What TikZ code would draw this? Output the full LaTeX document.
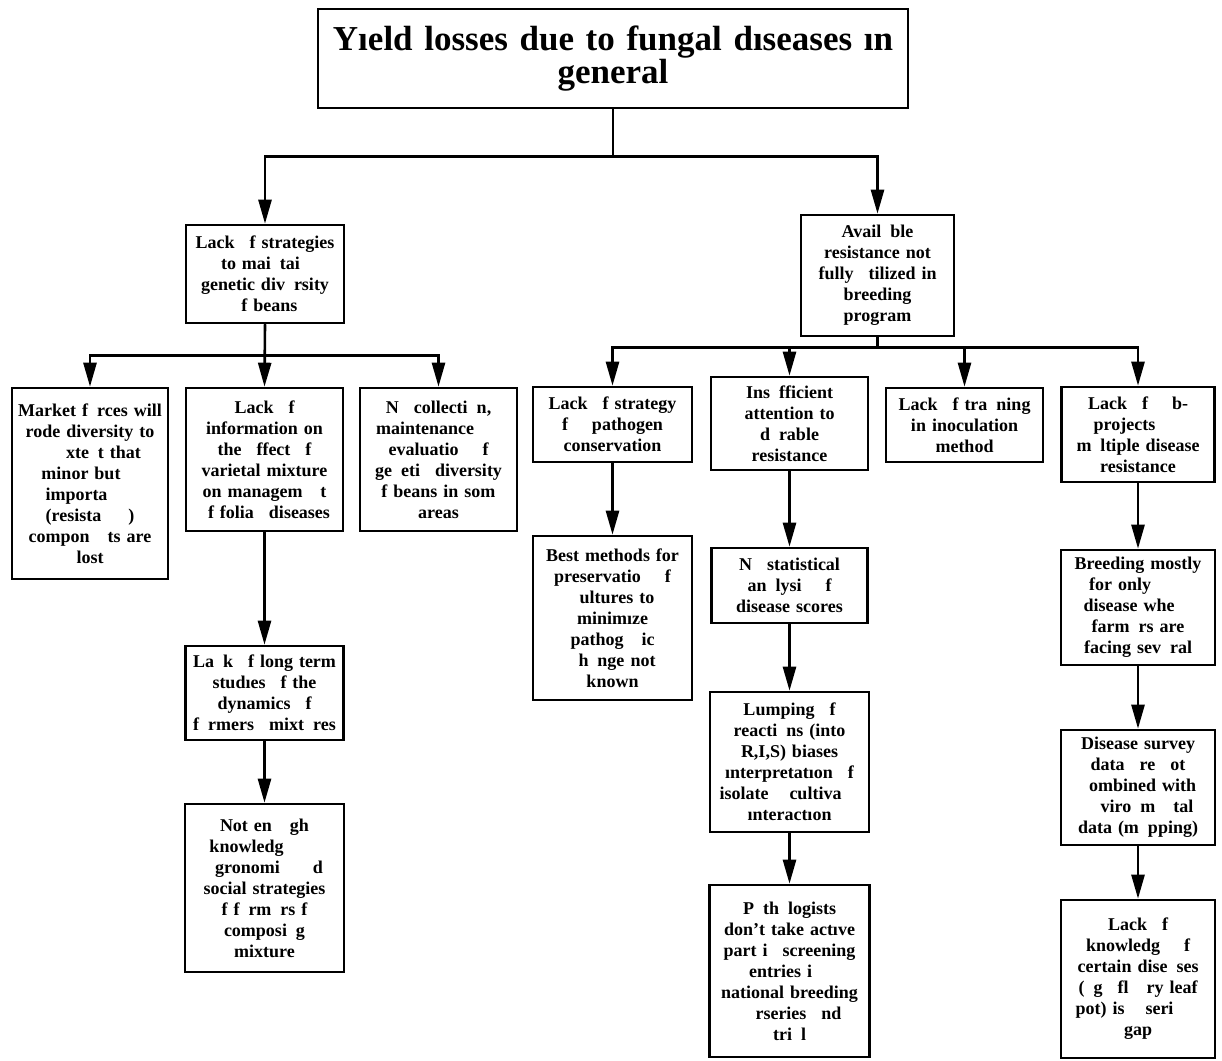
\documentclass[tikz,border=0pt]{standalone}
\usepackage{fontspec}
\setmainfont{Liberation Serif}
\usetikzlibrary{arrows.meta}
% a gap where a letter is not printed (horizontal, also at a line start)
\newcommand\gp{\leavevmode\kern0.5em}
\tikzset{
  box/.style={draw, line width=2.6pt, inner sep=0pt, align=center,
    font=\fontsize{18}{21}\selectfont\bfseries},
  titlebox/.style={draw, line width=2.6pt, inner sep=0pt, align=center,
    font=\fontsize{35}{33}\selectfont\bfseries},
  arr/.style={line width=2.6pt, line join=miter,
    -{Triangle[length=24pt,width=13pt]}},
}
\begin{document}
\begin{tikzpicture}[x=1pt,y=-1pt]
\useasboundingbox (0,0) rectangle (1222,1060);

% top
\node[titlebox, minimum width=590pt, minimum height=99pt, text width=580pt]
  (title) at (613,58.5) {Yıeld losses due to fungal dıseases ın\\general};

% first level
\node[box, minimum width=158pt, minimum height=98pt, text width=152pt]
  (strat) at (265,274) {Lack \gp f strategies\\to mai\gp tai\gp\\genetic div\gp rsity\\\gp f beans};
\node[box, minimum width=153pt, minimum height=121pt, text width=147pt]
  (avail) at (877.5,275.5) {Avail\gp ble\\resistance not\\fully \gp tilized in\\breeding\\program};

% left branch
\node[box, minimum width=156pt, minimum height=191pt, text width=150pt]
  (market) at (90,483.5) {Market f\gp rces will\\rode diversity to\\\gp\gp\gp xte\gp t that\\minor but\gp\gp\\importa\gp\gp\gp\\(resista\gp\gp\gp)\\compon\gp\gp ts are\\lost};
\node[box, minimum width=157pt, minimum height=143pt, text width=151pt]
  (info) at (264.5,459.5) {Lack \gp f\\information on\\the \gp ffect \gp f\\varietal mixture\\on managem\gp\gp t\\\gp f folia\gp\ diseases};
\node[box, minimum width=157pt, minimum height=143pt, text width=151pt]
  (ncoll) at (438.5,459.5) {N\gp\ collecti\gp n,\\maintenance\gp\gp\gp\\evaluatio\gp\ \gp f\\ge\gp eti\gp\ diversity\\\gp f beans in som\gp\\areas};
\node[box, minimum width=158pt, minimum height=94pt, text width=152pt]
  (longt) at (264.5,693) {La\gp k \gp f long term\\studıes \gp f the\\dynamics \gp f\\f\gp rmers\gp\ mixt\gp res};
\node[box, minimum width=159pt, minimum height=168pt, text width=153pt]
  (enough) at (264.5,888) {Not en\gp\gp gh\\knowledg\gp\gp\gp\gp\\\gp gronomi\gp\ \gp\gp d\\social strategies\\\gp f f\gp rm\gp rs f\gp\\composi\gp g\\mixture};

% right branch
\node[box, minimum width=159pt, minimum height=75pt, text width=153pt]
  (pcons) at (612.5,424.5) {Lack \gp f strategy\\f\gp\gp\ pathogen\\conservation};
\node[box, minimum width=157pt, minimum height=93pt, text width=151pt]
  (insuf) at (789.5,423.5) {Ins\gp fficient\\attention to\\d\gp rable\\resistance};
\node[box, minimum width=157pt, minimum height=74pt, text width=151pt]
  (train) at (964.5,425) {Lack \gp f tra\gp ning\\in inoculation\\method};
\node[box, minimum width=153pt, minimum height=95pt, text width=147pt]
  (subp) at (1138,434.5) {Lack \gp f \gp\gp b-\\projects\gp\gp\gp\\m\gp ltiple disease\\resistance};

\node[box, minimum width=159pt, minimum height=164pt, text width=153pt]
  (best) at (612.5,618) {Best methods for\\preservatio\gp\ \gp f\\\gp ultures to\\minimıze\\pathog\gp\gp ic\\\gp h\gp nge not\\known};

\node[box, minimum width=156pt, minimum height=75pt, text width=150pt]
  (nstat) at (789.5,585.5) {N\gp\ statistical\\an\gp lysi\gp\ \gp f\\disease scores};
\node[box, minimum width=159pt, minimum height=140pt, text width=153pt]
  (lump) at (789.5,762) {Lumping \gp f\\reacti\gp ns (into\\R,I,S) biases\\ınterpretatıon \gp f\\isolate \gp\ cultiva\gp\gp\\ınteractıon};
\node[box, minimum width=160pt, minimum height=172pt, text width=154pt]
  (patho) at (789.5,971) {P\gp th\gp logists\\don’t take actıve\\part i\gp\ screening\\entries i\gp\gp\\national breeding\\\gp\gp rseries \gp nd\\tri\gp l};

\node[box, minimum width=154pt, minimum height=115pt, text width=148pt]
  (breed) at (1138,607.5) {Breeding mostly\\for only\gp\gp\gp\gp\\disease whe\gp\gp\\farm\gp rs are\\facing sev\gp ral};
\node[box, minimum width=154pt, minimum height=115pt, text width=148pt]
  (survey) at (1138,787.5) {Disease survey\\data \gp re \gp ot\\\gp ombined with\\\gp\gp viro\gp m\gp\gp tal\\data (m\gp pping)};
\node[box, minimum width=154pt, minimum height=158pt, text width=148pt]
  (knowl) at (1138,979) {Lack \gp f\\knowledg\gp\ \gp f\\certain dise\gp ses\\(\gp g\gp\ fl\gp\gp ry leaf\\pot) is \gp\ seri\gp\gp\gp\\gap};

% connectors
\draw[arr] (title.south) -- ++(0,47) -| (strat.north);
\draw[arr] (title.south) -- ++(0,47) -| (avail.north);

\draw[arr] (strat.south) -- ++(0,31) -| (market.north);
\draw[arr] (strat.south) -- (info.north);
\draw[arr] (strat.south) -- ++(0,31) -| (ncoll.north);

\draw[arr] (avail.south) -- ++(0,10) -| (pcons.north);
\draw[arr] (avail.south) -- ++(0,10) -| (insuf.north);
\draw[arr] (avail.south) -- ++(0,10) -| (train.north);
\draw[arr] (avail.south) -- ++(0,10) -| (subp.north);

\draw[arr] (info.south) -- (longt.north);
\draw[arr] (longt.south) -- (enough.north);
\draw[arr] (pcons.south) -- (best.north);
\draw[arr] (insuf.south) -- (nstat.north);
\draw[arr] (nstat.south) -- (lump.north);
\draw[arr] (lump.south) -- (patho.north);
\draw[arr] (subp.south) -- (breed.north);
\draw[arr] (breed.south) -- (survey.north);
\draw[arr] (survey.south) -- (knowl.north);
\end{tikzpicture}
\end{document}
